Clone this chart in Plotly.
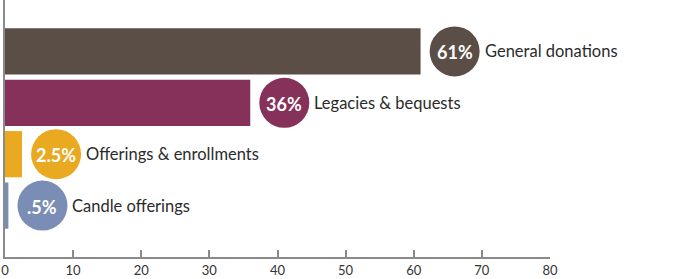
import plotly.graph_objects as go

categories = ["General donations", "Legacies & bequests", "Offerings & enrollments", "Candle offerings"]
values = [61, 36, 2.5, 0.5]
pct_labels = ["61%", "36%", "2.5%", ".5%"]
colors = ["#5a4e46", "#85315a", "#e9a920", "#7a8db5"]
tick_vals = [0, 10, 20, 30, 40, 50, 60, 70, 80]

ypos = list(range(len(categories)))
circle_offset = 5.0  # data units between bar end and circle centre

fig = go.Figure()
fig.add_trace(go.Bar(
    x=values, y=ypos, orientation="h",
    marker=dict(color=colors, line=dict(width=0)),
    width=0.9, hoverinfo="skip", showlegend=False,
))
fig.add_trace(go.Scatter(
    x=[v + circle_offset for v in values], y=ypos,
    mode="markers",
    marker=dict(size=50, color=colors, line=dict(width=0)),
    hoverinfo="skip", showlegend=False, cliponaxis=False,
))
for v, y, name, pct in zip(values, ypos, categories, pct_labels):
    fig.add_annotation(
        x=v + circle_offset, y=y, text=pct, showarrow=False,
        xanchor="center", yanchor="middle", yshift=-1,
        font=dict(family="Lato", size=18, color="white", weight="bold"),
    )
    fig.add_annotation(
        x=v + circle_offset, y=y, text=name, showarrow=False,
        xanchor="left", yanchor="middle", xshift=28,
        font=dict(family="Lato", size=16.5, color="#2b2b2b"),
    )

fig.update_layout(
    width=689, height=279,
    margin=dict(l=5, r=139, t=0, b=22),
    plot_bgcolor="white", paper_bgcolor="white",
    xaxis=dict(
        range=[0, 80], tickvals=tick_vals, showgrid=False, zeroline=False,
        showline=True, linecolor="#8a8a8a", linewidth=2,
        ticks="inside", ticklen=7, tickwidth=2, tickcolor="#8a8a8a",
        tickfont=dict(family="Lato", size=13, color="#333333"),
    ),
    yaxis=dict(
        range=[4, -1], showticklabels=False, showgrid=False, zeroline=False,
        showline=True, linecolor="#8a8a8a", linewidth=2, ticks="",
    ),
)
fig.write_html("out.html")
